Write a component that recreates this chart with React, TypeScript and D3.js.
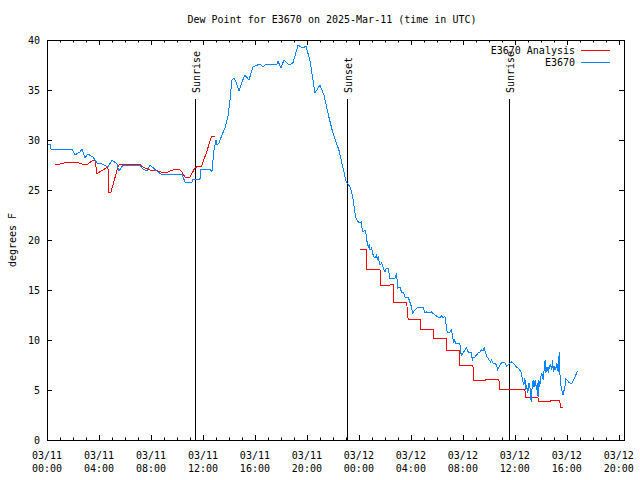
import React from 'react';
import * as d3 from 'd3';

const TITLE = 'Dew Point for E3670 on 2025-Mar-11 (time in UTC)';
const Y_LABEL = 'degrees F';
const Y_TICKS = [0, 5, 10, 15, 20, 25, 30, 35, 40];
const X_TICK_HOURS = [0, 4, 8, 12, 16, 20, 24, 28, 32, 36, 40, 44];
const X_TICK_DATES = ['03/11', '03/11', '03/11', '03/11', '03/11', '03/11', '03/12', '03/12', '03/12', '03/12', '03/12', '03/12'];
const X_TICK_TIMES = ['00:00', '04:00', '08:00', '12:00', '16:00', '20:00', '00:00', '04:00', '08:00', '12:00', '16:00', '20:00'];
const X_DOMAIN = [0, 44.4];
const Y_DOMAIN = [0, 40];

const SUN_HOURS = [11.42, 23.08, 35.58];
const SUN_LABELS = ['Sunrise', 'Sunset', 'Sunrise'];

const SERIES_NAMES = ['E3670 Analysis', 'E3670'];
const SERIES_COLORS = ['#ff0000', '#0a84ff'];

// E3670 observations: hours since 03/11 00:00 UTC, dew point (F)
const OBS_HOURS = [
  0, 0.23, 0.31, 1.92, 2.15, 2.54, 2.69, 2.92, 3.15, 3.54, 3.85, 4.08, 4.69, 5.0, 5.38, 5.54, 5.85, 7.15, 7.38, 7.69,
  7.92, 8.54, 8.77, 10.38, 10.62, 11.15, 11.23, 11.77, 11.85, 12.54, 12.69, 12.85, 13.0, 13.08, 13.23, 13.46, 13.69, 13.92, 14.08, 14.23,
  14.38, 14.54, 14.77, 15.0, 15.23, 15.54, 15.85, 16.38, 16.62, 16.85, 17.69, 17.77, 18.0, 18.23, 18.62, 18.92, 19.15, 19.31, 19.69, 19.92,
  20.23, 20.62, 21.0, 21.31, 21.69, 22.0, 22.46, 22.99, 23.05, 23.31, 23.44, 23.56, 23.69, 23.77, 23.95, 24.08, 24.21, 24.25, 24.33, 24.46,
  24.54, 24.64, 24.72, 24.79, 24.85, 24.98, 25.05, 25.15, 25.23, 25.36, 25.41, 25.48, 25.62, 25.75, 25.87, 26.0, 26.13, 26.25, 26.38, 26.77,
  26.9, 26.98, 27.15, 27.28, 27.41, 27.54, 27.79, 27.92, 28.05, 28.13, 28.31, 28.56, 28.95, 29.08, 29.21, 29.46, 29.59, 29.85, 30.1, 30.23,
  30.36, 30.48, 30.62, 30.69, 30.75, 30.87, 31.0, 31.13, 31.21, 31.31, 31.38, 31.46, 31.77, 31.82, 31.9, 32.02, 32.15, 32.28, 32.41, 32.67,
  32.72, 32.79, 32.92, 33.05, 33.18, 33.31, 33.44, 33.56, 33.64, 33.75, 33.87, 34.02, 34.13, 34.21, 34.33, 34.46, 34.59, 34.67, 34.75, 34.85,
  34.98, 35.1, 35.23, 35.36, 35.48, 35.62, 35.75, 35.87, 36.0, 36.13, 36.25, 36.38, 36.51, 36.59, 36.69, 36.77, 36.85, 36.9, 37.0, 37.08,
  37.15, 37.21, 37.25, 37.31, 37.41, 37.48, 37.56, 37.67, 37.72, 37.79, 37.85, 37.92, 37.98, 38.08, 38.18, 38.25, 38.33, 38.38, 38.48, 38.59,
  38.64, 38.69, 38.77, 38.85, 38.9, 38.98, 39.08, 39.15, 39.23, 39.31, 39.36, 39.41, 39.46, 39.51, 39.56, 39.67, 39.72, 39.79, 39.85, 39.92,
  40.02, 40.13, 40.23, 40.33, 40.44, 40.54, 40.64, 40.75, 40.82,
];
const OBS_VALUES = [
  29.6, 29.6, 29.1, 29.1, 28.5, 28.8, 29.1, 28.2, 28.6, 28.3, 27.7, 27.7, 27.3, 28.0, 27.6, 26.9, 27.5, 27.5, 27.1, 26.9,
  27.5, 26.8, 26.6, 26.6, 25.8, 25.8, 26.1, 26.1, 27.1, 27.1, 26.8, 29.0, 30.0, 29.5, 29.7, 30.5, 31.2, 32.3, 34.0, 36.0,
  36.2, 35.8, 34.9, 35.8, 36.5, 36.0, 37.3, 37.6, 37.3, 37.6, 37.6, 37.9, 37.2, 38.0, 37.5, 37.7, 38.7, 39.5, 39.2, 39.4,
  38.0, 34.7, 35.5, 34.5, 32.3, 30.7, 29.0, 26.0, 25.8, 25.3, 24.8, 24.0, 22.8, 22.2, 21.8, 21.7, 21.8, 21.0, 20.8, 21.0,
  20.7, 19.7, 19.3, 19.5, 19.0, 19.2, 18.7, 18.3, 18.2, 18.5, 18.0, 18.3, 17.5, 17.7, 17.2, 16.8, 17.2, 17.2, 16.2, 16.2,
  16.7, 15.2, 15.3, 14.8, 14.8, 14.3, 14.3, 13.8, 13.3, 12.7, 13.0, 13.3, 13.3, 12.7, 12.8, 12.7, 12.8, 12.5, 12.3, 12.2,
  12.4, 12.2, 12.4, 11.8, 11.0, 10.7, 10.8, 11.0, 10.3, 9.8, 10.0, 9.7, 9.7, 8.8, 8.5, 8.7, 9.0, 9.2, 8.8, 8.8,
  8.0, 8.2, 8.3, 8.5, 8.7, 8.8, 9.0, 8.9, 9.3, 8.7, 8.3, 8.0, 7.8, 8.0, 7.7, 7.7, 7.5, 7.0, 7.2, 7.5,
  7.7, 7.8, 7.7, 7.4, 7.5, 7.7, 7.8, 7.7, 7.5, 7.3, 7.2, 7.0, 6.7, 6.0, 5.5, 6.2, 5.0, 5.5, 4.7, 5.7,
  5.3, 5.0, 3.8, 5.0, 6.0, 5.3, 6.0, 5.0, 5.7, 4.3, 6.0, 5.3, 6.2, 6.7, 6.0, 7.0, 8.0, 6.7, 7.3, 6.7,
  7.5, 7.2, 7.5, 7.0, 8.0, 6.8, 7.3, 7.0, 7.7, 7.0, 6.8, 8.8, 6.7, 6.2, 5.3, 4.7, 4.5, 5.0, 5.3, 6.1,
  6.0, 5.8, 5.7, 5.6, 5.8, 6.1, 6.3, 6.7, 6.9,
];

// E3670 Analysis: hours since 03/11 00:00 UTC, dew point (F); null = gap
const ANA_HOURS = [
  0.62, 1.0, 1.6, 2.2, 2.69, 3.15, 3.54, 3.69, 3.85, 4.15, 4.69, 4.77, 4.92, 5.46, 5.6, 7.15, 7.38, 7.92, 8.54, 8.77,
  9.31, 9.85, 10.15, 10.38, 10.62, 11.0, 11.38, 11.64, 11.9, 12.28, 12.67, 12.92, 18.0,
  24.08, 24.62, 24.62, 25.62, 25.69, 26.38, 26.46, 26.69, 26.69, 27.69, 27.72, 27.79, 28.77, 28.77, 29.77, 29.77, 30.77, 30.77,
  31.77, 31.77, 32.77, 32.85, 33.77, 33.77, 34.77, 34.85, 36.77, 36.82, 37.77, 37.82, 38.77, 38.77, 39.46, 39.5, 39.69,
];
const ANA_VALUES = [
  27.6, 27.6, 27.8, 27.8, 27.6, 27.6, 28.0, 28.0, 26.6, 26.9, 27.3, 24.8, 24.8, 27.3, 27.6, 27.6, 27.3, 27.0, 26.9, 26.8,
  26.8, 27.1, 27.1, 26.8, 26.3, 26.3, 27.2, 27.4, 27.4, 28.8, 30.4, 30.4, null,
  19.1, 19.1, 17.1, 17.1, 15.5, 15.5, 15.6, 15.6, 13.8, 13.8, 12.7, 12.1, 12.1, 11.1, 11.1, 10.2, 10.2, 9.0,
  9.0, 7.5, 7.5, 6.0, 6.0, 6.1, 6.1, 5.1, 5.1, 4.3, 4.3, 3.9, 3.9, 4.0, 4.0, 3.3, 3.3,
];

const W = 640;
const H = 480;
const PLOT = { left: 47, right: 624, top: 40, bottom: 440 };
const FONT = '"DejaVu Sans Mono", "Liberation Mono", monospace';

export default function App() {
  const x = d3.scaleLinear().domain(X_DOMAIN).range([PLOT.left, PLOT.right]);
  const y = d3.scaleLinear().domain(Y_DOMAIN).range([PLOT.bottom, PLOT.top]);

  const obs = OBS_HOURS.map((h, i) => ({ h, v: OBS_VALUES[i] }));
  const ana = ANA_HOURS.map((h, i) => ({ h, v: ANA_VALUES[i] }));

  const line = d3
    .line<{ h: number; v: number | null }>()
    .defined((d) => d.v !== null)
    .x((d) => x(d.h))
    .y((d) => y(d.v as number));

  const minorHours = d3.range(1, 45).filter((h) => h % 4 !== 0 && x(h) < PLOT.right);

  return (
    <svg
      width={W}
      height={H}
      style={{ position: 'absolute', left: 0, top: 0, background: '#fff' }}
      fontFamily={FONT}
      fontSize={10}
    >
      <rect x={0} y={0} width={W} height={H} fill="#fff" />
      <text x={332} y={19} textAnchor="middle" dy="0.35em" fill="#000">
        {TITLE}
      </text>

      {/* y ticks and labels */}
      {Y_TICKS.map((t) => (
        <g key={'y' + t}>
          <line x1={PLOT.left} x2={PLOT.left + 5} y1={y(t) + 0.5} y2={y(t) + 0.5} stroke="#000" />
          <line x1={PLOT.right - 5} x2={PLOT.right} y1={y(t) + 0.5} y2={y(t) + 0.5} stroke="#000" />
          <text x={PLOT.left - 7} y={y(t)} textAnchor="end" dy="0.35em" fill="#000">
            {t}
          </text>
        </g>
      ))}

      {/* x ticks */}
      {X_TICK_HOURS.map((h, i) => (
        <g key={'x' + h}>
          <line x1={Math.round(x(h)) + 0.5} x2={Math.round(x(h)) + 0.5} y1={PLOT.bottom} y2={PLOT.bottom - 5} stroke="#000" />
          <line x1={Math.round(x(h)) + 0.5} x2={Math.round(x(h)) + 0.5} y1={PLOT.top} y2={PLOT.top + 5} stroke="#000" />
          <text x={x(h)} y={455} textAnchor="middle" dy="0.35em" fill="#000">
            {X_TICK_DATES[i]}
          </text>
          <text x={x(h)} y={468} textAnchor="middle" dy="0.35em" fill="#000">
            {X_TICK_TIMES[i]}
          </text>
        </g>
      ))}
      {minorHours.map((h) => (
        <g key={'m' + h}>
          <line x1={Math.round(x(h)) + 0.5} x2={Math.round(x(h)) + 0.5} y1={PLOT.bottom} y2={PLOT.bottom - 2.5} stroke="#000" />
          <line x1={Math.round(x(h)) + 0.5} x2={Math.round(x(h)) + 0.5} y1={PLOT.top} y2={PLOT.top + 2.5} stroke="#000" />
        </g>
      ))}

      {/* y axis label */}
      <text
        transform={`translate(12, ${(PLOT.top + PLOT.bottom) / 2}) rotate(-90)`}
        textAnchor="middle"
        dy="0.35em"
        fill="#000"
      >
        {Y_LABEL}
      </text>

      {/* sunrise / sunset */}
      {SUN_HOURS.map((h, i) => {
        const sx = Math.round(x(h)) + 0.5;
        return (
          <g key={'s' + i}>
            <line x1={sx} x2={sx} y1={99} y2={PLOT.bottom} stroke="#000" />
            <text
              transform={`translate(${sx + 1}, 93) rotate(-90)`}
              textAnchor="start"
              dy="0.35em"
              fill="#000"
            >
              {SUN_LABELS[i]}
            </text>
          </g>
        );
      })}

      {/* series */}
      <path d={line(ana) || ''} fill="none" stroke={SERIES_COLORS[0]} strokeWidth={1} shapeRendering="crispEdges" />
      <path d={line(obs) || ''} fill="none" stroke={SERIES_COLORS[1]} strokeWidth={1} shapeRendering="crispEdges" />

      {/* legend */}
      {SERIES_NAMES.map((name, i) => (
        <g key={'l' + i}>
          <text x={575} y={50 + i * 12} textAnchor="end" dy="0.35em" fill="#000">
            {name}
          </text>
          <line x1={581} x2={610} y1={50.5 + i * 12} y2={50.5 + i * 12} stroke={SERIES_COLORS[i]} />
        </g>
      ))}

      {/* border */}
      <rect
        x={PLOT.left + 0.5}
        y={PLOT.top + 0.5}
        width={PLOT.right - PLOT.left}
        height={PLOT.bottom - PLOT.top}
        fill="none"
        stroke="#000"
      />
    </svg>
  );
}
